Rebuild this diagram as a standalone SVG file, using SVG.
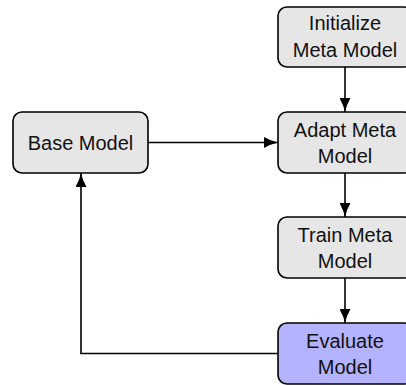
<svg xmlns="http://www.w3.org/2000/svg" width="406" height="385" viewBox="0 0 406 385">
<defs>
<marker id="arr" viewBox="0 0 14 11" refX="14" refY="5.5" markerWidth="14" markerHeight="11" markerUnits="userSpaceOnUse" orient="auto">
<path d="M14,5.5 Q7,4 0,0 L0,11 Q7,7 14,5.5 Z" fill="#000"/>
</marker>
<style>
.box{stroke:#000;stroke-width:1.6}
.g{fill:#e6e6e6}
.b{fill:#b3b3ff}
text{font-family:"Liberation Sans",Arial,sans-serif;font-size:20px;fill:#111;text-anchor:middle}
.edge{fill:none;stroke:#000;stroke-width:1.6;marker-end:url(#arr)}
</style>
</defs>
<g id="connectors">
<path class="edge" d="M345,67 V112"/>
<path class="edge" d="M148,142.5 H278"/>
<path class="edge" d="M345,173 V217"/>
<path class="edge" d="M345,278 V323"/>
<path class="edge" d="M278,353.5 H81 V173"/>
</g>
<g id="init">
<rect class="box g" x="278" y="7" width="135" height="60" rx="9"/>
<text x="345" y="30">Initialize</text>
<text x="345" y="57">Meta Model</text>
</g>
<g id="base">
<rect class="box g" x="13" y="112" width="135" height="61" rx="9"/>
<text x="80.5" y="150">Base Model</text>
</g>
<g id="adapt">
<rect class="box g" x="278" y="112" width="135" height="61" rx="9"/>
<text x="345" y="137">Adapt Meta</text>
<text x="345" y="163">Model</text>
</g>
<g id="train">
<rect class="box g" x="278" y="217" width="135" height="61" rx="9"/>
<text x="345" y="242">Train Meta</text>
<text x="345" y="268">Model</text>
</g>
<g id="eval">
<rect class="box b" x="278" y="323" width="135" height="61" rx="9"/>
<text x="345" y="348">Evaluate</text>
<text x="345" y="374">Model</text>
</g>
</svg>
